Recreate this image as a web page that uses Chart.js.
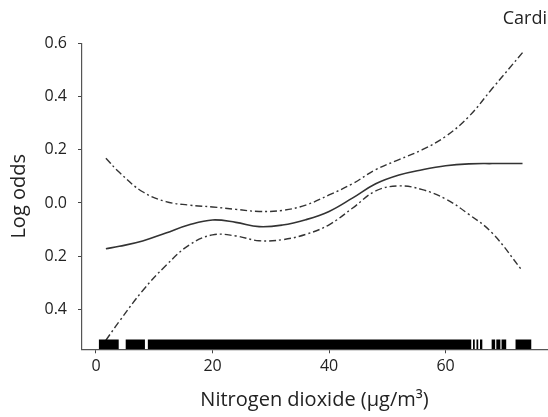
<!DOCTYPE html>
<html>
<head>
<meta charset="utf-8">
<script src="https://cdn.jsdelivr.net/npm/chart.js@4.4.1/dist/chart.umd.min.js"></script>
<style>
  html, body { margin: 0; padding: 0; background: #fff; }
</style>
</head>
<body>
<canvas id="chart" width="548" height="417"></canvas>
<script>
const no2 = [1.7, 4, 8, 12, 16, 20, 24, 28, 32, 36, 40, 44, 48, 52, 56, 60, 64, 68, 73.2];
// smooth term (log odds) and its confidence band
const logOdds = [-0.172, -0.163, -0.143, -0.113, -0.082, -0.064, -0.073, -0.089, -0.083, -0.063, -0.032, 0.018, 0.072, 0.105, 0.125, 0.140, 0.147, 0.148, 0.148];
const upperCI = [0.168, 0.115, 0.042, 0.005, -0.008, -0.015, -0.024, -0.032, -0.028, -0.008, 0.030, 0.072, 0.125, 0.163, 0.200, 0.250, 0.325, 0.430, 0.565];
const lowerCI = [-0.516, -0.445, -0.330, -0.235, -0.158, -0.120, -0.124, -0.142, -0.138, -0.118, -0.082, -0.020, 0.045, 0.064, 0.050, 0.015, -0.043, -0.113, -0.256];
// rug of observed exposures (runs of ticks)
const rugFrom = [0.5, 5.1, 8.9, 64.7, 65.3, 65.9, 67.9, 68.7, 69.6, 72.0];
const rugTo = [3.9, 8.4, 64.4, 65.0, 65.6, 66.3, 68.5, 69.4, 70.4, 74.7];
// axis ticks
const xTicks = [0, 20, 40, 60];
const yTicks = [-0.4, -0.2, 0, 0.2, 0.4, 0.6];

const RUG_Y = -0.532;
const FONT = "'Open Sans', sans-serif";

Chart.defaults.font.family = FONT;
Chart.defaults.color = '#222';

const toPoints = (ys) => no2.map((x, i) => ({ x: x, y: ys[i] }));

const rugPoints = [];
rugFrom.forEach((a, i) => {
  rugPoints.push({ x: a, y: RUG_Y }, { x: rugTo[i], y: RUG_Y }, { x: rugTo[i], y: null });
});

const curve = (label, ys, width, dash) => ({
  label: label,
  data: toPoints(ys),
  borderColor: '#333',
  borderWidth: width,
  borderDash: dash,
  pointRadius: 0,
  tension: 0.4,
  fill: false
});

const ctx = document.getElementById('chart').getContext('2d');

new Chart(ctx, {
  type: 'line',
  data: {
    datasets: [
      {
        label: 'rug',
        data: rugPoints,
        borderColor: '#000',
        borderWidth: 10,
        borderCapStyle: 'butt',
        pointRadius: 0,
        spanGaps: false,
        tension: 0
      },
      curve('log odds', logOdds, 1.6, []),
      curve('upper', upperCI, 1.4, [7, 3, 2, 3]),
      curve('lower', lowerCI, 1.4, [7, 3, 2, 3])
    ]
  },
  options: {
    responsive: false,
    animation: false,
    devicePixelRatio: 1,
    layout: { padding: { left: 0, right: 1, top: 0, bottom: 0 } },
    plugins: {
      legend: { display: false },
      tooltip: { enabled: false },
      title: {
        display: true,
        text: 'Cardi',
        align: 'end',
        color: '#222',
        font: { size: 18, weight: 'normal' },
        padding: { top: 8, bottom: 13.7 }
      }
    },
    scales: {
      x: {
        type: 'linear',
        min: -2.4,
        max: 77.4,
        afterBuildTicks: (scale) => { scale.ticks = xTicks.map(v => ({ value: v })); },
        afterFit: (scale) => { scale.height = 67.7; },
        grid: { display: true, drawOnChartArea: false, drawTicks: true, tickLength: 4, color: '#444' },
        border: { display: true, color: '#555', width: 1.2 },
        ticks: { font: { size: 16 }, padding: 4, maxRotation: 0 },
        title: {
          display: true,
          text: 'Nitrogen dioxide (μg/m³)',
          font: { size: 20 },
          padding: { top: 0, bottom: 5 }
        }
      },
      y: {
        type: 'linear',
        min: -0.55,
        max: 0.6,
        afterBuildTicks: (scale) => { scale.ticks = yTicks.map(v => ({ value: v })); },
        afterFit: (scale) => { scale.width = 82; },
        grid: { display: true, drawOnChartArea: false, drawTicks: true, tickLength: 4, color: '#444' },
        border: { display: true, color: '#555', width: 1.2 },
        ticks: {
          font: { size: 16 },
          padding: 11,
          // the printed figure lost its minus signs
          callback: (v) => Math.abs(v).toFixed(1)
        },
        title: {
          display: true,
          text: 'Log odds',
          font: { size: 20 },
          padding: { top: 7.5, bottom: 0 }
        }
      }
    }
  }
});
</script>
</body>
</html>
